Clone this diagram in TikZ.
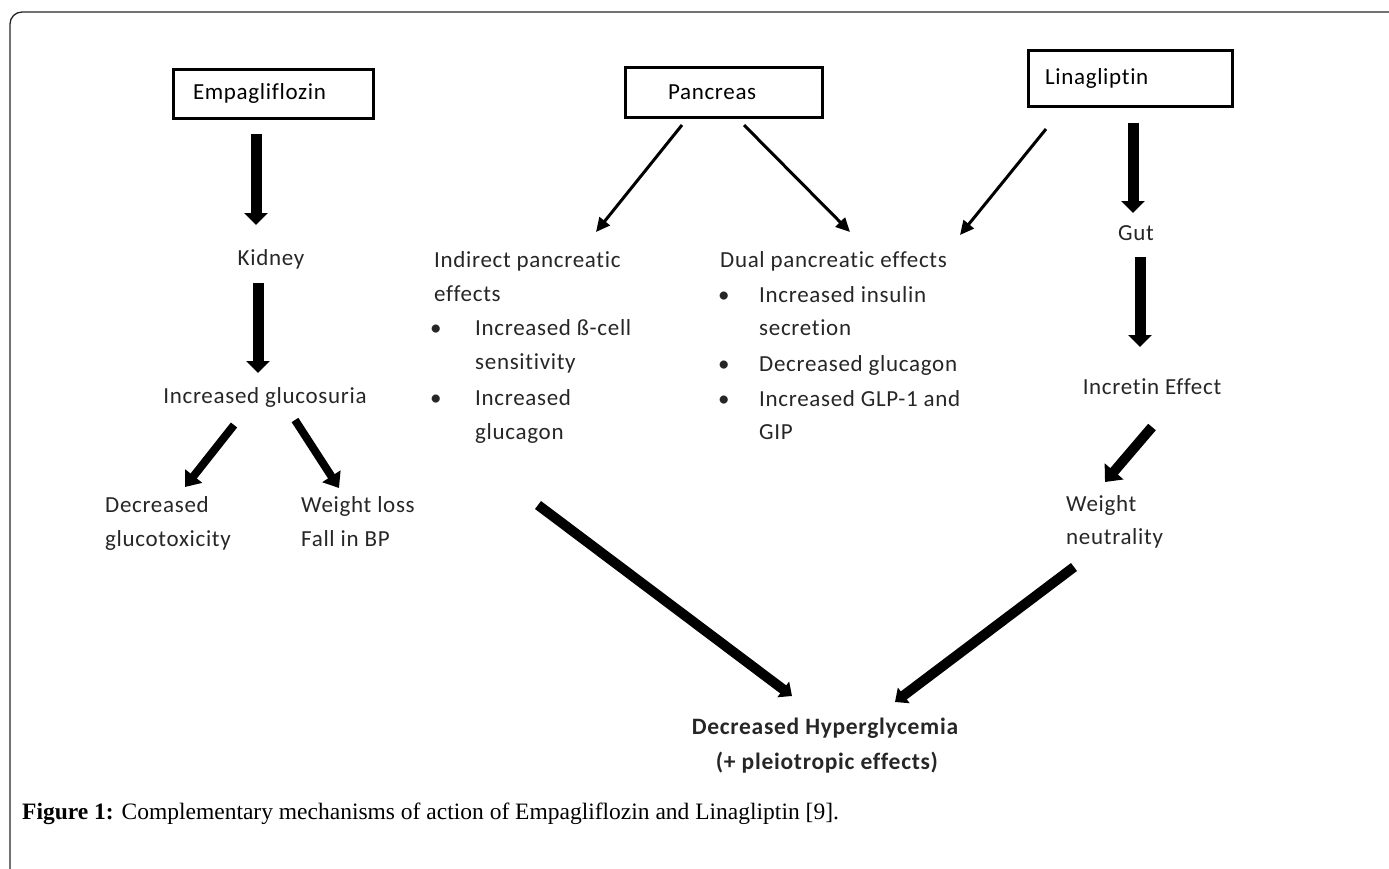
\documentclass[tikz,border=0pt]{standalone}
\usepackage{fontspec}
\setmainfont{Carlito}[LetterSpace=3, Ligatures={NoCommon,NoRare,NoDiscretionary}, Contextuals=NoAlternate]
\newfontfamily\capfont{Liberation Serif}
\usetikzlibrary{arrows.meta}
\begin{document}
\begin{tikzpicture}[x=1pt,y=-1pt,
  txt/.style={inner sep=0pt, font=\fontsize{23}{34}\selectfont, text=black!85},
  lft/.style={txt, anchor=mid west},
  drugbox/.style={draw, line width=3pt, inner ysep=0pt, align=left, font=\fontsize{23}{34}\selectfont},
  thickarr/.style={line width=11pt, -{Triangle[width=23pt,length=12pt]}},
  midarr/.style={line width=8pt, -{Triangle[width=21pt,length=14pt]}},
  thinarr/.style={line width=3pt, -{Triangle[width=13pt,length=14pt]}},
  bigarr/.style={line width=10pt, -{Triangle[width=19pt,length=11pt]}}
]
\useasboundingbox (0,0) rectangle (1389,868);
% frame
\draw[line width=1.3pt, black!85, rounded corners=12pt] (10,880) -- (10,12) -- (1400,12);

% boxes
\node[drugbox, minimum width=200pt, minimum height=49pt, text width=160pt, inner xsep=20pt] (empa) at (273,93.5) {Empagliflozin};
\node[drugbox, minimum width=197pt, minimum height=50pt, text width=111pt, inner xsep=43pt] (panc) at (723.5,92) {Pancreas};
\node[drugbox, minimum width=204pt, minimum height=56pt, text width=170pt, inner xsep=17pt] (lina) at (1130,78) {Linagliptin};

% left column
\node[txt] (kidney) at (271,259) {Kidney};
\node[txt] (gluc) at (265,397) {Increased glucosuria};
\node[lft] (decr1) at (105,510) {Decreased};
\node[lft] (decr2) at (105,544) {glucotoxicity};
\node[lft] (wl1) at (301,510) {Weight loss};
\node[lft] (wl2) at (301,544) {Fall in BP};

% indirect
\node[lft] (ind1) at (434,265) {Indirect pancreatic};
\node[lft] (ind2) at (434,299) {effects};
\node[lft] (indb1) at (430,333) {\textbullet};
\node[lft] (ind3) at (475,333) {Increased ß-cell};
\node[lft] (ind4) at (475,367) {sensitivity};
\node[lft] (indb2) at (430,403) {\textbullet};
\node[lft] (ind5) at (475,403) {Increased};
\node[lft] (ind6) at (475,437) {glucagon};

% dual
\node[lft] (dual1) at (720,265) {Dual pancreatic effects};
\node[lft] (dualb1) at (718,300) {\textbullet};
\node[lft] (dual2) at (759,300) {Increased insulin};
\node[lft] (dual3) at (759,333) {secretion};
\node[lft] (dualb2) at (718,369) {\textbullet};
\node[lft] (dual4) at (759,369) {Decreased glucagon};
\node[lft] (dualb3) at (718,404) {\textbullet};
\node[lft] (dual5) at (759,404) {Increased GLP-1 and};
\node[lft] (dual6) at (759,437) {GIP};

% right column
\node[txt] (gut) at (1136,233) {Gut};
\node[txt] (incr) at (1152,387) {Incretin Effect};
\node[lft] (wn1) at (1066,509) {Weight};
\node[lft] (wn2) at (1066,542) {neutrality};

% result
\node[txt, font=\fontsize{23.5}{34}\selectfont\bfseries] (dh) at (825,728) {Decreased Hyperglycemia};
\node[txt, font=\fontsize{23.5}{34}\selectfont\bfseries] (pleio) at (827,763) {(+ pleiotropic effects)};

% caption
\node[anchor=mid west, inner sep=0pt, font=\capfont\fontsize{23.5}{28}\selectfont] (cap) at (22,817) {\textbf{Figure 1:} Complementary mechanisms of action of Empagliflozin and Linagliptin [9].};

% arrow endpoints
\coordinate (a1s) at (256,134); \coordinate (a1e) at (256,225);
\coordinate (a2s) at (258,283); \coordinate (a2e) at (258,373);
\coordinate (a3s) at (234,425); \coordinate (a3e) at (185,487);
\coordinate (a4s) at (295,420); \coordinate (a4e) at (339,488);
\coordinate (p1s) at (682,125); \coordinate (p1e) at (596,232);
\coordinate (p2s) at (744,125); \coordinate (p2e) at (850,232);
\coordinate (l1s) at (1046,129); \coordinate (l1e) at (960,235);
\coordinate (l2s) at (1133,123); \coordinate (l2e) at (1133,213);
\coordinate (gs) at (1140,257); \coordinate (ge) at (1140,347);
\coordinate (is) at (1152,427); \coordinate (ie) at (1105,482);
\coordinate (b1s) at (538,505); \coordinate (b1e) at (792,696);
\coordinate (b2s) at (1074,567); \coordinate (b2e) at (895,702);

\draw[thickarr] (a1s) -- (a1e);
\draw[thickarr] (a2s) -- (a2e);
\draw[midarr] (a3s) -- (a3e);
\draw[midarr] (a4s) -- (a4e);
\draw[thinarr] (p1s) -- (p1e);
\draw[thinarr] (p2s) -- (p2e);
\draw[thinarr] (l1s) -- (l1e);
\draw[thickarr] (l2s) -- (l2e);
\draw[thickarr] (gs) -- (ge);
\draw[line width=10pt, -{Triangle[width=24pt,length=14pt]}] (is) -- (ie);
\draw[bigarr] (b1s) -- (b1e);
\draw[bigarr] (b2s) -- (b2e);
\end{tikzpicture}
\end{document}
